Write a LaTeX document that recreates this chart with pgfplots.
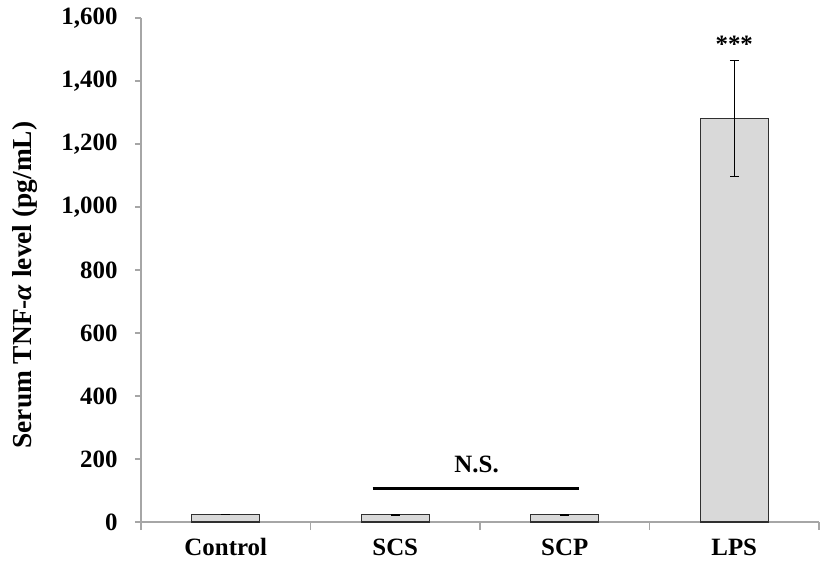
\documentclass[border=0pt]{standalone}
\usepackage{pgfplots}
\pgfplotsset{compat=1.18}
\usepackage{fontspec}
\setmainfont{Liberation Serif}
\definecolor{bargray}{HTML}{D9D9D9}
\definecolor{axgray}{HTML}{A6A6A6}
\definecolor{edge}{HTML}{303030}
\begin{document}
\begin{tikzpicture}
\begin{axis}[
  scale only axis,
  width=678bp, height=504bp,
  xmin=-0.5, xmax=3.5,
  ymin=0, ymax=1600,
  axis x line*=bottom, axis y line*=left,
  axis line style={draw=axgray, line width=1.2bp, -},
  ytick={0,200,...,1600},
  ytick style={draw=axgray, line width=1.2bp},
  tick align=outside,
  major tick length=6bp,
  xtick={0,1,2,3},
  xticklabels={Control,SCS,SCP,LPS},
  xtick style={draw=none},
  extra x ticks={-0.5,0.5,1.5,2.5,3.5},
  extra x tick labels={},
  extra x tick style={xtick style={draw=axgray, line width=1.2bp}, major tick length=8bp},
  /pgf/number format/assume math mode=true,
  /pgf/number format/1000 sep={,},
  tick label style={font=\fontsize{25}{25}\selectfont\bfseries},
  yticklabel style={xshift=-14bp},
  xticklabel style={yshift=-7bp},
  ylabel={Serum TNF-\textit{α} level (pg/mL)},
  ylabel style={font=\fontsize{27.5}{27.5}\selectfont\bfseries, at={(axis description cs:-0.171,0.47)}, anchor=center},
  clip=false,
]
\addplot[ybar, bar width=0.4, fill=bargray, draw=edge, line width=1.2bp,
  error bars/.cd, y dir=both, y explicit,
  error bar style={black, line width=0.8bp},
  error mark options={rotate=90, mark size=4.5bp, black, line width=0.8bp}]
  coordinates {
    (0,23) +- (0,0)
    (1,23) +- (0,2)
    (2,23) +- (0,2)
    (3,1282) +- (0,184)
  };
\addplot[black, line width=3bp, forget plot] coordinates {(0.867,105) (2.086,105)};
\node[font=\fontsize{25}{25}\selectfont\bfseries] at (axis cs:1.48,183) {N.S.};
\node[font=\fontsize{25}{25}\selectfont\bfseries] at (axis cs:3,1515) {***};
\path (rel axis cs:0,0) ++(-141bp,-54bp);
\path (rel axis cs:1,1) ++(8bp,18bp);
\end{axis}
\end{tikzpicture}
\end{document}
